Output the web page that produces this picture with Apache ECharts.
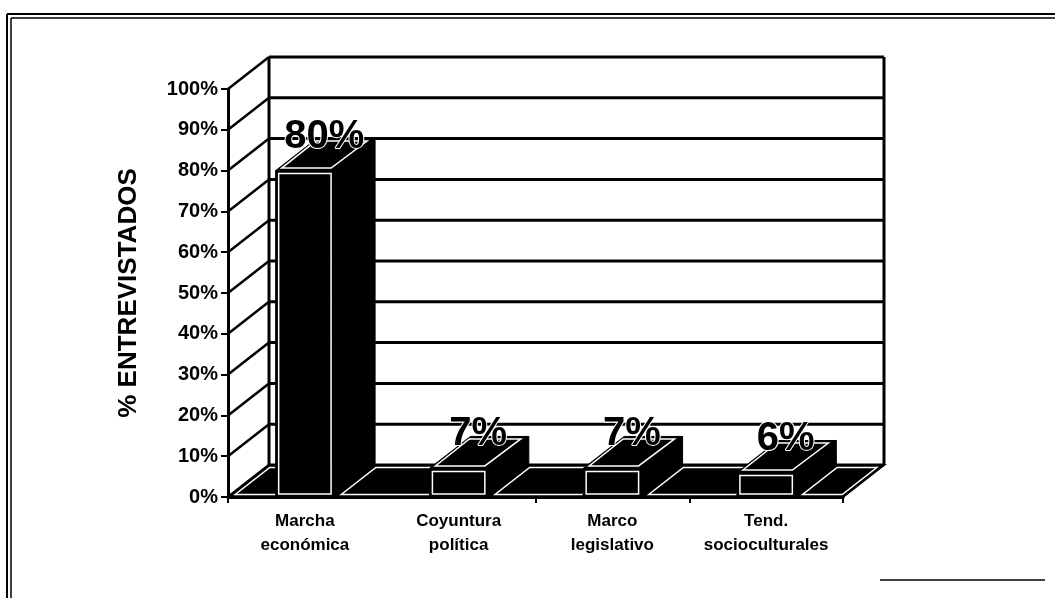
<!DOCTYPE html>
<html><head><meta charset="utf-8">
<script src="https://cdn.jsdelivr.net/npm/echarts@6/dist/echarts.min.js"></script>
<style>html,body{margin:0;padding:0;background:#fff}#c{width:1055px;height:598px}</style>
</head><body><div id="c"></div>
<script>
// ---- data ----
const categories = ['Marcha\neconómica', 'Coyuntura\npolítica', 'Marco\nlegislativo', 'Tend.\nsocioculturales'];
const values = [80, 7, 7, 6];
const valueLabels = ['80%', '7%', '7%', '6%'];
const yTicks = [0, 10, 20, 30, 40, 50, 60, 70, 80, 90, 100];

// ---- style ----
const DX = 41, DY = -32;      // 3D depth offset (px)
const BAR_FRAC = 0.38;
const FAM = '"Liberation Sans", Arial, sans-serif';

const chart = echarts.init(document.getElementById('c'), null, { renderer: 'canvas' });

function wallItem(params, api) {
  const cs = params.coordSys;
  const v = api.value(1);
  const y = api.coord([0, v])[1];
  const x0 = cs.x, x1 = cs.x + cs.width;
  const ch = [
    { type: 'line', shape: { x1: x0, y1: y, x2: x0 + DX, y2: y + DY }, style: { stroke: '#000', lineWidth: 2.5 } },
    { type: 'line', shape: { x1: x0 + DX, y1: y + DY, x2: x1 + DX, y2: y + DY }, style: { stroke: '#000', lineWidth: 3 } }
  ];
  if (params.dataIndex === 0) {
    ch.push({ type: 'line', shape: { x1: x0 + DX, y1: cs.y + DY, x2: x0 + DX, y2: cs.y + cs.height + DY }, style: { stroke: '#000', lineWidth: 3 } });
    ch.push({ type: 'line', shape: { x1: x1 + DX, y1: cs.y + DY, x2: x1 + DX, y2: cs.y + cs.height + DY }, style: { stroke: '#000', lineWidth: 3 } });
  }
  return { type: 'group', children: ch };
}

function floorItem(params, api) {
  const cs = params.coordSys;
  const x0 = cs.x, x1 = cs.x + cs.width, yb = cs.y + cs.height;
  const ch = [{
    type: 'polygon',
    shape: { points: [[x0, yb], [x1, yb], [x1 + DX, yb + DY], [x0 + DX, yb + DY]] },
    style: { fill: '#000', stroke: '#000', lineWidth: 2 }
  }];
  const bw = api.size([1, 0])[0] * BAR_FRAC;
  const xs = [x0];
  for (let i = 0; i < values.length; i++) {
    const c = api.coord([i, 0])[0];
    xs.push(c - bw / 2, c + bw / 2);
  }
  xs.push(x1);
  const k = DX / DY;
  for (let j = 0; j < xs.length; j += 2) {
    const a = xs[j], b = xs[j + 1];
    const yF = yb - 2.5, yB = yb + DY + 2.5;
    const L = y => a + 4 + (y - yb) * k;
    const R = y => b - 4 + (y - yb) * k;
    ch.push({
      type: 'polygon',
      shape: { points: [[L(yF), yF], [R(yF), yF], [R(yB), yB], [L(yB), yB]] },
      style: { fill: 'none', stroke: '#fff', lineWidth: 1.5 }
    });
  }
  return { type: 'group', children: ch };
}

function barItem(params, api) {
  const i = api.value(0), v = api.value(1);
  const top = api.coord([i, v]);
  const base = api.coord([i, 0]);
  const bw = api.size([1, 0])[0] * BAR_FRAC;
  const xl = top[0] - bw / 2, xr = top[0] + bw / 2, yt = top[1], yb = base[1];
  const ins = 3;
  return {
    type: 'group',
    children: [
      { type: 'polygon', shape: { points: [[xr, yb], [xr + DX, yb + DY], [xr + DX, yt + DY], [xr, yt]] }, style: { fill: '#000', stroke: '#000', lineWidth: 1 } },
      { type: 'polygon', shape: { points: [[xl, yt], [xr, yt], [xr + DX, yt + DY], [xl + DX, yt + DY]] }, style: { fill: '#000', stroke: '#000', lineWidth: 1 } },
      { type: 'rect', shape: { x: xl, y: yt, width: bw, height: yb - yt }, style: { fill: '#000', stroke: '#000', lineWidth: 1 } },
      { type: 'rect', shape: { x: xl + ins, y: yt + ins, width: bw - 2 * ins, height: yb - yt - 2 * ins }, style: { fill: 'none', stroke: '#fff', lineWidth: 1.5 } },
      { type: 'polygon', shape: { points: [[xl + 6, yt - 2.5], [xr - 3, yt - 2.5], [xr + DX - 8, yt + DY + 2.5], [xl + DX - 1, yt + DY + 2.5]] }, style: { fill: 'none', stroke: '#fff', lineWidth: 1.5 } },
      { type: 'text', x: top[0] + DX / 2 - 1, y: yt - 34, z2: 10,
        style: { text: valueLabels[params.dataIndex], fill: '#000', stroke: '#fff', lineWidth: 2, strokeFirst: true,
          font: 'bold 40px ' + FAM, align: 'center', verticalAlign: 'middle' } }
    ]
  };
}

const option = {
  animation: false,
  backgroundColor: '#fff',
  grid: { left: 228, top: 89, width: 615, height: 408 },
  xAxis: {
    type: 'category', data: categories, boundaryGap: true,
    axisLine: { show: true, lineStyle: { color: '#000', width: 3 } },
    axisTick: { show: true, interval: 1, length: 6, lineStyle: { color: '#000', width: 2 } },
    axisLabel: { interval: 0, color: '#000', fontFamily: FAM, fontWeight: 'bold', fontSize: 17, lineHeight: 24, margin: 12 },
    splitLine: { show: false }, z: 5
  },
  yAxis: {
    type: 'value', min: 0, max: 100, interval: 10,
    name: '% ENTREVISTADOS', nameLocation: 'middle', nameRotate: 90, nameGap: 86,
    nameTextStyle: { color: '#000', fontFamily: FAM, fontWeight: 'bold', fontSize: 26 },
    axisLine: { show: true, lineStyle: { color: '#000', width: 3 } },
    axisTick: { show: true, length: 7, lineStyle: { color: '#000', width: 2 } },
    axisLabel: { color: '#000', fontFamily: FAM, fontWeight: 'bold', fontSize: 20, margin: 10, formatter: '{value}%' },
    splitLine: { show: false }, z: 5
  },
  series: [
    { type: 'custom', name: 'walls', renderItem: wallItem, data: yTicks.map(v => [0, v]), encode: { x: 0, y: 1 }, z: 1, silent: true },
    { type: 'custom', name: 'floor', renderItem: floorItem, data: [[0, 0]], encode: { x: 0, y: 1 }, z: 2, silent: true },
    { type: 'custom', name: 'bars', renderItem: barItem, data: values.map((v, i) => [i, v]), encode: { x: 0, y: 1 }, z: 3 }
  ],
  graphic: [
    { type: 'line', shape: { x1: 7, y1: 14, x2: 7, y2: 598 }, style: { stroke: '#000', lineWidth: 2 } },
    { type: 'line', shape: { x1: 11, y1: 18, x2: 11, y2: 598 }, style: { stroke: '#000', lineWidth: 1.5 } },
    { type: 'line', shape: { x1: 7, y1: 14, x2: 1055, y2: 14 }, style: { stroke: '#000', lineWidth: 2 } },
    { type: 'line', shape: { x1: 11, y1: 18, x2: 1055, y2: 18 }, style: { stroke: '#000', lineWidth: 1.5 } },
    { type: 'line', shape: { x1: 880, y1: 580, x2: 1045, y2: 580 }, style: { stroke: '#000', lineWidth: 1.5 } }
  ]
};
chart.setOption(option);
</script>
</body></html>
